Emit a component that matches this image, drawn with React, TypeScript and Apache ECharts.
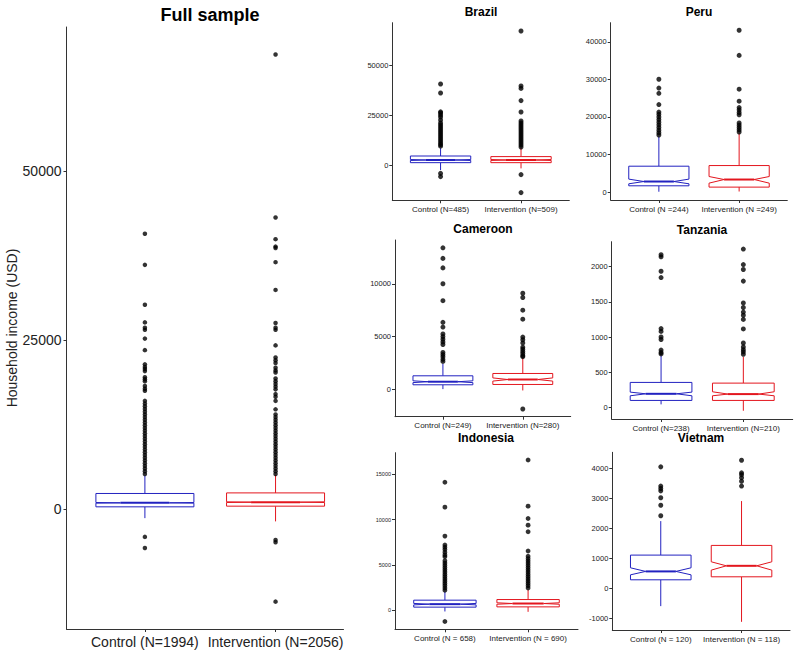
import React, { useEffect, useRef } from "react";
import * as echarts from "echarts";

// ---------- DATA ----------
// box stats: [lowerWhisker, q1, notchLow, median, notchHigh, q3, upperWhisker]
const fullCategories = ["Control (N=1994)", "Intervention (N=2056)"];
const fullBoxes = [
  [-1330, 340, 880, 930, 980, 2315, 4950],
  [-1810, 440, 980, 1030, 1080, 2400, 5060],
];
const fullOutControl = [40700, 36100, 30200, 27600, 26800, 26500, 25200, 23500, 21400, 21000, 20700, 20400, 19500, 19200, 18900, 18200, 17800, 17500, 16000, 15600, 15200, 14800, 14400, 14000, 13600, 13200, 12800, 12400, 12000, 11600, 11200, 10800, 10400, 10000, 9600, 9200, 8800, 8400, 8000, 7600, 7200, 6800, 6400, 6000, 5600, 5200, -4100, -5750];
const fullOutIntervention = [67200, 43100, 39900, 38800, 38600, 36500, 32400, 27500, 26800, 26500, 24200, 22400, 22000, 21600, 20900, 20500, 20200, 19300, 18900, 18500, 18100, 17700, 17000, 16600, 16000, 14750, 14000, 13600, 13200, 12800, 12400, 12000, 11600, 11200, 10800, 10400, 10000, 9600, 9200, 8800, 8400, 8000, 7600, 7200, 6800, 6400, 6000, 5600, 5200, -4570, -4900, -13670];
const fullTicks = [0, 25000, 50000];

const brazilCategories = ["Control (N=485)", "Intervention (N=509)"];
const brazilBoxes = [
  [-2500, 1170, 2260, 2500, 2740, 4500, 8400],
  [-1700, 1170, 2260, 2500, 2740, 4200, 8700],
];
const brazilOutControl = [40500, 36000, 26600, 26000, 25000, 24000, 22500, 21000, 20000, 19000, 18000, 17000, 16000, 15000, 14000, 13000, 12000, 11000, 10200, 9400, -4200, -5800];
const brazilOutIntervention = [67000, 39500, 38300, 32200, 26500, 22000, 21000, 20000, 19000, 18000, 17000, 16000, 15000, 14000, 13000, 12000, 11000, 10000, 9000, -4800, -13800];
const brazilTicks = [0, 25000, 50000];

const peruCategories = ["Control (N =244)", "Intervention (N =249)"];
const peruBoxes = [
  [100, 1680, 2210, 2820, 3460, 6900, 14800],
  [160, 1330, 2390, 3350, 4150, 7070, 15700],
];
const peruOutControl = [30050, 27700, 26300, 23300, 21300, 20700, 20000, 19300, 18600, 17900, 17200, 16500, 15800, 15200];
const peruOutIntervention = [43100, 36400, 27400, 24200, 22500, 21900, 21200, 20600, 18400, 17800, 17200, 16600, 16000];
const peruTicks = [0, 10000, 20000, 30000, 40000];

const cameroonCategories = ["Control (N=249)", "Intervention (N=280)"];
const cameroonBoxes = [
  [30, 440, 645, 730, 815, 1290, 2420],
  [-95, 470, 790, 940, 1090, 1510, 2990],
];
const cameroonOutControl = [13400, 12400, 11500, 10000, 8400, 6350, 5900, 5250, 5000, 4750, 4500, 4250, 3500, 3300, 3100, 2850, 2650];
const cameroonOutIntervention = [9100, 8700, 7500, 6650, 4950, 4700, 4400, 4000, 3800, 3600, 3400, 3200, 3100, -1850];
const cameroonTicks = [0, 5000, 10000];

const tanzaniaCategories = ["Control (N=238)", "Intervention (N=210)"];
const tanzaniaBoxes = [
  [43, 99, 165, 193, 217, 355, 740],
  [-48, 99, 165, 189, 222, 345, 718],
];
const tanzaniaOutControl = [2170, 2140, 1935, 1845, 1120, 1080, 1000, 965, 815, 780, 760];
const tanzaniaOutIntervention = [2250, 2030, 1960, 1795, 1485, 1420, 1355, 1310, 1250, 1115, 915, 860, 820, 790, 755];
const tanzaniaTicks = [0, 500, 1000, 1500, 2000];

const indonesiaCategories = ["Control (N = 658)", "Intervention (N = 690)"];
const indonesiaBoxes = [
  [-150, 330, 580, 660, 740, 1100, 2050],
  [-190, 360, 650, 730, 810, 1170, 2240],
];
const indonesiaOutControl = [14130, 11380, 8180, 7200, 6950, 6700, 6400, 6100, 5900, 5450, 5200, 4950, 4700, 4450, 4200, 3950, 3700, 3450, 3200, 2950, 2700, 2450, 2200, -1255];
const indonesiaOutIntervention = [16590, 11490, 10130, 9390, 8660, 6530, 5950, 5700, 5450, 5200, 4950, 4700, 4450, 4200, 3950, 3700, 3450, 3200, 2950, 2700, 2450];
const indonesiaTicks = [0, 5000, 10000, 15000];

const vietnamCategories = ["Control (N = 120)", "Intervention (N = 118)"];
const vietnamBoxes = [
  [-590, 287, 453, 567, 687, 1110, 2243],
  [-1113, 387, 610, 753, 887, 1433, 2910],
];
const vietnamOutControl = [4050, 3410, 3330, 3250, 3020, 2770, 2420];
const vietnamOutIntervention = [4270, 3850, 3790, 3690, 3570, 3410];
const vietnamTicks = [-1000, 0, 1000, 2000, 3000, 4000];

// ---------- LAYOUT / STYLE ----------
const FONT = '"Liberation Sans", Arial, Helvetica, sans-serif';
const BLUE = "#2222C0";
const RED = "#E3161E";
const AXIS = "#333333";
const BOX_WIDTH = 0.75;

type Panel = {
  title: string;
  titleX: number;
  titleY: number;
  titleSize: number;
  cats: string[];
  boxes: number[][];
  outC: number[];
  outI: number[];
  ticks: number[];
  grid: { left: number; top: number; width: number; height: number };
  yMin: number;
  yMax: number;
  xMax: number;
  yFont: number;
  xFont: number;
  dot: number;
  yName?: string;
};

const panels: Panel[] = [
  { title: "Full sample", titleX: 210, titleY: 15, titleSize: 18, cats: fullCategories, boxes: fullBoxes, outC: fullOutControl, outI: fullOutIntervention, ticks: fullTicks, grid: { left: 66.5, top: 27, width: 277, height: 602 }, yMin: -17714, yMax: 71254, xMax: 2.52, yFont: 14, xFont: 14, dot: 4.5, yName: "Household income (USD)" },
  { title: "Brazil", titleX: 481, titleY: 12, titleSize: 12, cats: brazilCategories, boxes: brazilBoxes, outC: brazilOutControl, outI: brazilOutIntervention, ticks: brazilTicks, grid: { left: 392.3, top: 22.7, width: 177, height: 177.6 }, yMin: -17650, yMax: 71150, xMax: 2.6, yFont: 7.5, xFont: 8, dot: 5 },
  { title: "Peru", titleX: 699, titleY: 12, titleSize: 12, cats: peruCategories, boxes: peruBoxes, outC: peruOutControl, outI: peruOutIntervention, ticks: peruTicks, grid: { left: 610.7, top: 22.7, width: 176.6, height: 177.3 }, yMin: -2100, yMax: 45100, xMax: 2.6, yFont: 7.5, xFont: 8, dot: 5 },
  { title: "Cameroon", titleX: 483, titleY: 229, titleSize: 12, cats: cameroonCategories, boxes: cameroonBoxes, outC: cameroonOutControl, outI: cameroonOutIntervention, ticks: cameroonTicks, grid: { left: 395, top: 240, width: 175.7, height: 176.7 }, yMin: -2580, yMax: 14140, xMax: 2.6, yFont: 7.5, xFont: 8, dot: 5 },
  { title: "Tanzania", titleX: 702, titleY: 230, titleSize: 12, cats: tanzaniaCategories, boxes: tanzaniaBoxes, outC: tanzaniaOutControl, outI: tanzaniaOutIntervention, ticks: tanzaniaTicks, grid: { left: 611.7, top: 241.7, width: 181, height: 177.3 }, yMin: -165, yMax: 2355, xMax: 2.6, yFont: 7.5, xFont: 8, dot: 5 },
  { title: "Indonesia", titleX: 486, titleY: 438, titleSize: 12, cats: indonesiaCategories, boxes: indonesiaBoxes, outC: indonesiaOutControl, outI: indonesiaOutIntervention, ticks: indonesiaTicks, grid: { left: 395, top: 452.7, width: 183, height: 176.6 }, yMin: -2120, yMax: 17400, xMax: 2.6, yFont: 5.5, xFont: 8, dot: 4.8 },
  { title: "Vietnam", titleX: 701, titleY: 438, titleSize: 12, cats: vietnamCategories, boxes: vietnamBoxes, outC: vietnamOutControl, outI: vietnamOutIntervention, ticks: vietnamTicks, grid: { left: 612.3, top: 452.3, width: 177.7, height: 177.7 }, yMin: -1385, yMax: 4535, xMax: 2.6, yFont: 7.5, xFont: 8, dot: 5 },
];

const groupColors = [BLUE, RED];

function renderBox(params: any, api: any) {
  const x = api.value(0);
  const lo = api.value(1);
  const q1 = api.value(2);
  const nl = api.value(3);
  const med = api.value(4);
  const nh = api.value(5);
  const q3 = api.value(6);
  const hi = api.value(7);
  const half = BOX_WIDTH / 2;
  const nhalf = BOX_WIDTH / 4;
  const p = (xx: number, yy: number) => api.coord([xx, yy]);
  const color = groupColors[params.dataIndex % 2];
  const pts = [
    p(x - half, q3), p(x + half, q3), p(x + half, nh), p(x + nhalf, med), p(x + half, nl),
    p(x + half, q1), p(x - half, q1), p(x - half, nl), p(x - nhalf, med), p(x - half, nh),
  ];
  const top = p(x, q3), hiP = p(x, hi), bot = p(x, q1), loP = p(x, lo);
  const ml = p(x - nhalf, med), mr = p(x + nhalf, med);
  return {
    type: "group",
    children: [
      { type: "line", shape: { x1: top[0], y1: top[1], x2: hiP[0], y2: hiP[1] }, style: { stroke: color, lineWidth: 1 } },
      { type: "line", shape: { x1: bot[0], y1: bot[1], x2: loP[0], y2: loP[1] }, style: { stroke: color, lineWidth: 1 } },
      { type: "polygon", shape: { points: pts }, style: { fill: "#ffffff", stroke: color, lineWidth: 1 } },
      { type: "line", shape: { x1: ml[0], y1: ml[1], x2: mr[0], y2: mr[1] }, style: { stroke: color, lineWidth: 2 } },
    ],
  };
}

export default function App() {
  const ref = useRef<HTMLDivElement>(null);
  useEffect(() => {
    if (!ref.current) return;
    const chart = echarts.init(ref.current, null, { renderer: "svg" });
    const grid: any[] = [];
    const xAxis: any[] = [];
    const yAxis: any[] = [];
    const series: any[] = [];
    const graphic: any[] = [];
    panels.forEach((pn, i) => {
      grid.push({ ...pn.grid, containLabel: false });
      xAxis.push({
        type: "value",
        gridIndex: i,
        min: 0.4,
        max: pn.xMax,
        axisLine: { show: true, onZero: false, lineStyle: { color: AXIS, width: 1 } },
        axisTick: { show: true, customValues: [1, 2], length: 3, lineStyle: { color: AXIS } },
        axisLabel: {
          show: true,
          customValues: [1, 2],
          formatter: (v: number) => pn.cats[Math.round(v) - 1] ?? "",
          fontSize: pn.xFont,
          fontFamily: FONT,
          color: "#222",
          margin: pn.xFont > 10 ? 6 : 5,
        },
        splitLine: { show: false },
      });
      yAxis.push({
        type: "value",
        gridIndex: i,
        min: pn.yMin,
        max: pn.yMax,
        axisLine: { show: true, onZero: false, lineStyle: { color: AXIS, width: 1 } },
        axisTick: { show: true, customValues: pn.ticks, length: 3, lineStyle: { color: AXIS } },
        axisLabel: {
          show: true,
          customValues: pn.ticks,
          formatter: (v: number) => String(v),
          fontSize: pn.yFont,
          fontFamily: FONT,
          color: "#222",
          margin: pn.yFont > 10 ? 5 : 4,
        },
        splitLine: { show: false },
        name: pn.yName ?? "",
        nameLocation: "middle",
        nameRotate: 90,
        nameGap: 45,
        nameTextStyle: { fontSize: 14, fontFamily: FONT, color: "#222" },
      });
      series.push({
        type: "scatter",
        xAxisIndex: i,
        yAxisIndex: i,
        symbol: "circle",
        symbolSize: pn.dot,
        itemStyle: { color: "#000" },
        silent: true,
        data: [...pn.outC.map((v) => [1, v]), ...pn.outI.map((v) => [2, v])],
      });
      series.push({
        type: "custom",
        xAxisIndex: i,
        yAxisIndex: i,
        clip: false,
        renderItem: renderBox,
        encode: { x: 0, y: [1, 2, 3, 4, 5, 6, 7] },
        data: pn.boxes.map((b, k) => [k + 1, ...b]),
      });
      graphic.push({
        type: "text",
        x: pn.titleX,
        y: pn.titleY,
        style: {
          text: pn.title,
          fontSize: pn.titleSize,
          fontWeight: "bold",
          fontFamily: FONT,
          fill: "#000",
          textAlign: "center",
          textVerticalAlign: "middle",
          align: "center",
          verticalAlign: "middle",
        },
      });
    });
    chart.setOption({
      animation: false,
      backgroundColor: "#ffffff",
      textStyle: { fontFamily: FONT },
      grid,
      xAxis,
      yAxis,
      series,
      graphic,
    });
    return () => chart.dispose();
  }, []);
  return (
    <div
      ref={ref}
      style={{ position: "absolute", left: 0, top: 0, width: 800, height: 656 }}
    />
  );
}
